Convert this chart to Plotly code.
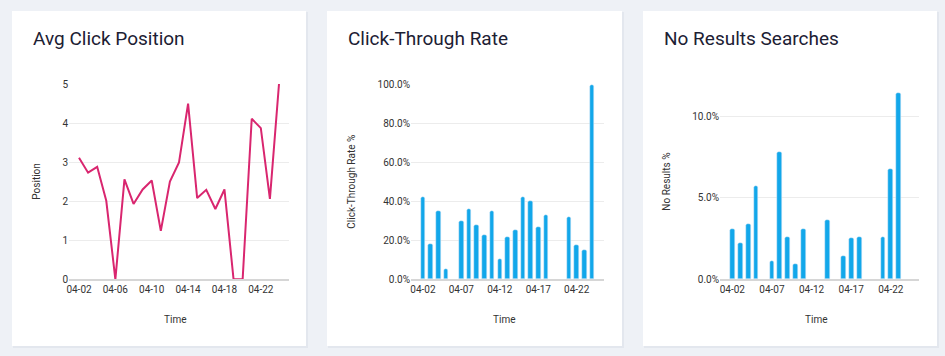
import plotly.graph_objects as go
from datetime import datetime, timedelta

# ---- data ----
dates = [f"2024-04-{d:02d}" for d in range(2, 25)]
avg_click_position = [3.11, 2.73, 2.88, 2.01, 0, 2.56, 1.93, 2.30, 2.53, 1.24, 2.50, 2.99,
                      4.50, 2.08, 2.29, 1.80, 2.30, 0, 0, 4.11, 3.87, 2.06, 5.0]
ctr = [0.422, 0.181, 0.352, 0.051, None, 0.299, 0.360, 0.278, 0.229, 0.348, 0.104, 0.217,
       0.254, 0.423, 0.403, 0.268, 0.328, None, None, 0.319, 0.176, 0.152, 0.995]
no_results = [0.0310, 0.0222, 0.0341, 0.0571, None, 0.0112, 0.0782, 0.0261, 0.0092, 0.0310,
              None, None, 0.0361, None, 0.0143, 0.0251, 0.0261, None, None, 0.0261, 0.0673,
              0.1139, None]
titles = ["Avg Click Position", "Click-Through Rate", "No Results Searches"]
y_titles = ["Position", "Click-Through Rate %", "No Results %"]
x_title = "Time"

W, H = 945, 356
BG = "#eef1f6"
LINE_COLOR = "#d9266f"
BAR_COLOR = "#12a7ea"
TITLE_COLOR = "#1c2033"
TEXT_COLOR = "#333333"
GRID = "#ececec"

def px(x):
    return x / W

def py(y):
    return 1 - y / H

fig = go.Figure()

# cards
cards = [(12, 306), (327, 622), (643, 937)]
shapes = []
for (l, r) in cards:
    shapes.append(dict(type="rect", xref="paper", yref="paper", x0=px(l + 1), x1=px(r + 2),
                       y0=py(348), y1=py(12), fillcolor="#e3e7ee", line=dict(width=0), layer="below"))
    shapes.append(dict(type="rect", xref="paper", yref="paper", x0=px(l), x1=px(r),
                       y0=py(346), y1=py(11), fillcolor="white", line=dict(width=0), layer="below"))

# plot areas (pixel)
areas = [(69, 289), (411, 604), (720, 919)]
top, bottom = 84, 279.3

d0 = datetime(2024, 4, 2)
d1 = datetime(2024, 4, 24)
ranges = [
    [d0 - timedelta(days=1.1), d1 + timedelta(days=1.1)],
    [d0 - timedelta(days=1.55), d1 + timedelta(days=1.55)],
    [d0 - timedelta(days=1.55), d1 + timedelta(days=1.55)],
]

fig.add_trace(go.Scatter(x=dates, y=avg_click_position, mode="lines",
                         line=dict(color=LINE_COLOR, width=2), xaxis="x", yaxis="y",
                         hoverinfo="x+y"))
fig.add_trace(go.Bar(x=dates, y=ctr, marker=dict(color=BAR_COLOR, cornerradius=2),
                     width=0.6 * 86400000, xaxis="x2", yaxis="y2"))
fig.add_trace(go.Bar(x=dates, y=no_results, marker=dict(color=BAR_COLOR, cornerradius=2),
                     width=0.6 * 86400000, xaxis="x3", yaxis="y3"))

tickfont = dict(family="Roboto, Arial, sans-serif", size=10, color=TEXT_COLOR)
layout = dict(
    width=W, height=H, margin=dict(l=0, r=0, t=0, b=0, pad=0, autoexpand=False),
    autosize=False,
    paper_bgcolor=BG, plot_bgcolor="rgba(0,0,0,0)", showlegend=False,
    shapes=shapes, bargap=0,
)
dticks = [4, 5, 5]
yconf = [
    dict(range=[0, 5], dtick=1, tickformat="d"),
    dict(range=[0, 1], dtick=0.2, tickformat=".1%"),
    dict(range=[0, 0.1196], dtick=0.05, tickformat=".1%"),
]
annotations = []
for i in range(3):
    sfx = "" if i == 0 else str(i + 1)
    l, r = areas[i]
    layout["xaxis" + sfx] = dict(
        domain=[px(l), px(r)], anchor="y" + sfx, type="date",
        range=[ranges[i][0].isoformat(), ranges[i][1].isoformat()],
        tick0="2024-04-02", dtick=dticks[i] * 86400000, tickformat="%m-%d",
        showgrid=False, showline=True, linecolor="#d6d6d6", linewidth=1.5,
        ticks="", tickfont=tickfont, zeroline=False, fixedrange=True, automargin=False,
    )
    yc = yconf[i]
    layout["yaxis" + sfx] = dict(
        domain=[py(bottom), py(top)], anchor="x" + sfx,
        range=yc["range"], dtick=yc["dtick"], tick0=0, tickformat=yc["tickformat"],
        showgrid=True, gridcolor=GRID, gridwidth=1, zeroline=False, showline=False,
        ticks="", tickfont=tickfont, fixedrange=True, automargin=False,
    )
    card_l = cards[i][0]
    annotations.append(dict(text=titles[i], xref="paper", yref="paper", x=px(card_l + 18.5), y=py(38),
                            xanchor="left", yanchor="middle", showarrow=False,
                            font=dict(family="Roboto, sans-serif", size=19, color=TITLE_COLOR)))
    annotations.append(dict(text=x_title, xref="paper", yref="paper", x=px((l + r) / 2 - 4), y=py(319),
                            xanchor="center", yanchor="middle", showarrow=False,
                            font=dict(family="Roboto, Arial, sans-serif", size=10, color=TEXT_COLOR)))
ytitle_x = [37, 352, 667]
for i in range(3):
    annotations.append(dict(text=y_titles[i], xref="paper", yref="paper", x=px(ytitle_x[i]),
                            y=py((top + bottom) / 2), xanchor="center", yanchor="middle",
                            textangle=-90, showarrow=False,
                            font=dict(family="Roboto, Arial, sans-serif", size=10, color=TEXT_COLOR)))
layout["annotations"] = annotations
fig.update_layout(**layout)
fig.write_html("out.html", config={"displayModeBar": False, "responsive": False},
               post_script="document.body.style.margin='0';document.body.style.padding='0';document.documentElement.style.overflow='hidden';")
